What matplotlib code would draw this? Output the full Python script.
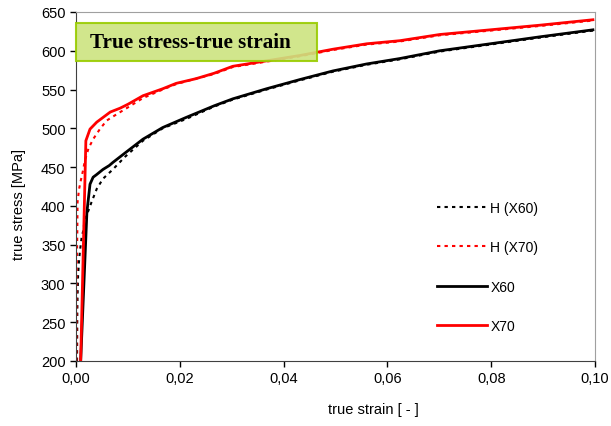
import numpy as np
import matplotlib.pyplot as plt
from matplotlib.patches import Rectangle

# curves (true strain [-], true stress [MPa])
x60_strain = [0.0009, 0.0021, 0.0027, 0.0033, 0.0039, 0.0052, 0.0064, 0.0071, 0.0096, 0.0129, 0.0167, 0.0212,
              0.0266, 0.0302, 0.0367, 0.0432, 0.0495, 0.0560, 0.0624, 0.0701, 0.0798, 0.0894, 0.0996]
x60_stress = [200, 392, 428, 437, 440, 447, 452, 456, 469, 486, 501, 514,
              529, 538, 551, 563, 574, 583, 590, 600, 609, 618, 627]

x70_strain = [0.0009, 0.0019, 0.0027, 0.0040, 0.0052, 0.0066, 0.0085, 0.0100, 0.0129, 0.0167, 0.0193, 0.0231,
              0.0266, 0.0302, 0.0367, 0.0432, 0.0495, 0.0560, 0.0624, 0.0701, 0.0798, 0.0894, 0.0996]
x70_stress = [200, 484, 499, 508, 514, 521, 526, 531, 542, 551, 558, 564,
              571, 580, 587, 594, 602, 609, 613, 621, 627, 633, 640]

h60_strain = [0.0002, 0.00025, 0.0003, 0.0004, 0.0006, 0.0008, 0.0011, 0.0014, 0.0017, 0.0024, 0.0030, 0.0040,
              0.0052, 0.0071, 0.0094, 0.0129, 0.0167, 0.0212, 0.0266, 0.0302, 0.0367, 0.0432, 0.0495, 0.0560,
              0.0624, 0.0701, 0.0798, 0.0894, 0.0996]
h60_stress = [200, 263, 284, 310, 331, 344, 360, 368, 383, 394, 405, 422,
              435, 447, 463, 484, 500, 512, 528, 537, 550, 562, 573, 582,
              589, 599, 608, 617, 626]

h70_strain = [0.0001, 0.0001, 0.00015, 0.00025, 0.0003, 0.0006, 0.0009, 0.0013, 0.0017, 0.0024, 0.0033, 0.0046,
              0.0059, 0.0078, 0.0100, 0.0129, 0.0167, 0.0193, 0.0231, 0.0266, 0.0302, 0.0367, 0.0432, 0.0495,
              0.0560, 0.0624, 0.0701, 0.0798, 0.0894, 0.0996]
h70_stress = [200, 293, 323, 366, 405, 422, 432, 444, 458, 474, 486, 499,
              510, 518, 527, 539, 550, 557, 564, 570, 579, 586, 593, 601,
              608, 612, 620, 626, 632, 639]

x_ticks = [0.00, 0.02, 0.04, 0.06, 0.08, 0.10]
y_ticks = [200, 250, 300, 350, 400, 450, 500, 550, 600, 650]

plt.rcParams['font.family'] = ['Liberation Sans', 'DejaVu Sans']

fig = plt.figure(figsize=(6.11, 4.27), dpi=100)
ax = fig.add_axes([76 / 611, 65 / 427, 519 / 611, 349 / 427])

dot = (0, (1.6, 2))
ax.plot(h60_strain, h60_stress, color='black', lw=1.5, ls=dot, label='H (X60)')
ax.plot(h70_strain, h70_stress, color='red', lw=1.5, ls=dot, label='H (X70)')
ax.plot(x60_strain, x60_stress, color='black', lw=2, label='X60')
ax.plot(x70_strain, x70_stress, color='red', lw=2, label='X70')

ax.set_xlim(0, 0.10)
ax.set_ylim(200, 650)
ax.set_xticks(x_ticks)
ax.set_xticklabels([f'{t:.2f}'.replace('.', ',') for t in x_ticks])
ax.set_yticks(y_ticks)
ax.tick_params(labelsize=10.5, length=4, width=1, direction='out')

for s in ['left', 'bottom']:
    ax.spines[s].set_color('#404040')
for s in ['top', 'right']:
    ax.spines[s].set_color('#a0a0a0')

ax.set_xlabel('true strain [ - ]', fontsize=10.5)
ax.xaxis.set_label_coords((373 - 76) / 519, -(403 - 362) / 349)
ax.set_ylabel('true stress [MPa]', fontsize=10.5)
ax.yaxis.set_label_coords(-(76 - 26) / 519, (362 - 205) / 349)

leg = ax.legend(loc='upper left', bbox_to_anchor=((437 - 76) / 519, (362 - 202) / 349),
                frameon=False, fontsize=10, handlelength=3.6, handletextpad=0.25,
                labelspacing=1.82, borderpad=0, borderaxespad=0)

# title box
ax.add_patch(Rectangle((0, (362 - 62) / 349), (317 - 76) / 519, 38 / 349, transform=ax.transAxes,
                       facecolor='#cce480', edgecolor='#99cc00', lw=1.5, alpha=0.9, zorder=5,
                       clip_on=False))
ax.text(14 / 519, (362 - 43) / 349, 'True stress-true strain', transform=ax.transAxes,
        family=['Liberation Serif', 'DejaVu Serif'], fontweight='bold', fontsize=15.2,
        va='center', ha='left', zorder=6)

fig.savefig('out.png', dpi=100)
